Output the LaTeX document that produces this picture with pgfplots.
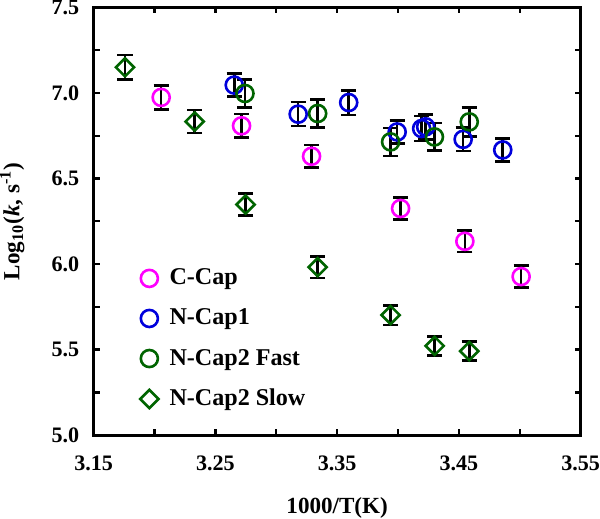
\documentclass[border=0pt]{standalone}
\usepackage{fontspec}
\setmainfont{Liberation Serif}
\usepackage{pgfplots}
\pgfplotsset{compat=1.18}
\definecolor{cmag}{RGB}{255,0,255}
\definecolor{cblue}{RGB}{0,0,220}
\definecolor{cgreen}{RGB}{0,100,0}
\begin{document}
\begin{tikzpicture}
\begin{axis}[
  scale only axis, width=242.5pt, height=213pt,
  xmin=3.15, xmax=3.55, ymin=5, ymax=7.5,
  xtick={3.15,3.25,3.35,3.45,3.55},
  ytick={5,5.5,6,6.5,7,7.5},
  minor x tick num=1, minor y tick num=1,
  tick align=inside, major tick length=3pt, minor tick length=3pt,
  every tick/.style={black, line width=1.2pt},
  axis line style={line width=1.5pt},
  /pgf/number format/assume math mode=true,
  x tick label style={font=\bfseries\fontsize{11}{12}\selectfont, inner sep=0pt, yshift=-10pt,
    /pgf/number format/fixed, /pgf/number format/fixed zerofill, /pgf/number format/precision=2},
  y tick label style={font=\bfseries\fontsize{11}{12}\selectfont, inner sep=0pt, xshift=-7pt,
    /pgf/number format/fixed, /pgf/number format/fixed zerofill, /pgf/number format/precision=1},
  xlabel={1000/T(K)},
  ylabel={Log\textsubscript{10}(\textit{k}, s\textsuperscript{-1})},
  xlabel style={font=\bfseries\fontsize{11.5}{13}\selectfont, inner sep=0pt, at={(axis description cs:0.5,-0.171)}, anchor=center},
  ylabel style={font=\bfseries\fontsize{11.5}{13}\selectfont, inner sep=0pt, at={(axis description cs:-0.167,0.5)}, anchor=center, rotate=0},
  legend style={draw=none, fill=none, at={(0.095,0.399)}, anchor=north west, inner sep=0pt,
    row sep=6.5pt, font=\bfseries\fontsize{12}{13}\selectfont,
    /tikz/every odd column/.append style={column sep=3.5pt}},
  legend cell align=left,
  error bars/error bar style={black, line width=1.3pt},
  error bars/error mark options={rotate=90, mark size=3.75pt, black, line width=1.3pt},
]
\addplot[only marks, mark=o, cmag, mark size=4.25pt, mark options={line width=1.3pt},
  error bars/.cd, y dir=both, y explicit]
  table[x=x, y=y, y error=e] {
x y e
3.2055 6.974 0.070
3.2715 6.808 0.068
3.3290 6.630 0.066
3.4021 6.325 0.065
3.4549 6.133 0.062
3.5011 5.927 0.063
};
\addlegendentry{C-Cap}
\addplot[only marks, mark=o, cblue, mark size=4.25pt, mark options={line width=1.3pt},
  error bars/.cd, y dir=both, y explicit]
  table[x=x, y=y, y error=e] {
x y e
3.2655 7.046 0.068
3.3180 6.876 0.070
3.3595 6.944 0.072
3.3993 6.772 0.066
3.4194 6.792 0.073
3.4227 6.802 0.073
3.4535 6.729 0.068
3.4860 6.667 0.068
};
\addlegendentry{N-Cap1}
\addplot[only marks, mark=o, cgreen, mark size=4.25pt, mark options={line width=1.3pt},
  error bars/.cd, y dir=both, y explicit]
  table[x=x, y=y, y error=e] {
x y e
3.2743 6.997 0.083
3.3340 6.880 0.083
3.3939 6.714 0.082
3.4299 6.743 0.081
3.4585 6.831 0.084
};
\addlegendentry{N-Cap2 Fast}
\addplot[only marks, mark=square, cgreen, mark size=3.2pt, mark options={line width=1.3pt, rotate=45},
  error bars/.cd, y dir=both, y explicit]
  table[x=x, y=y, y error=e] {
x y e
3.1758 7.150 0.071
3.2330 6.833 0.068
3.2748 6.348 0.065
3.3340 5.982 0.064
3.3939 5.702 0.057
3.4301 5.522 0.056
3.4585 5.491 0.056
};
\addlegendentry{N-Cap2 Slow}
\end{axis}
\end{tikzpicture}
\end{document}
